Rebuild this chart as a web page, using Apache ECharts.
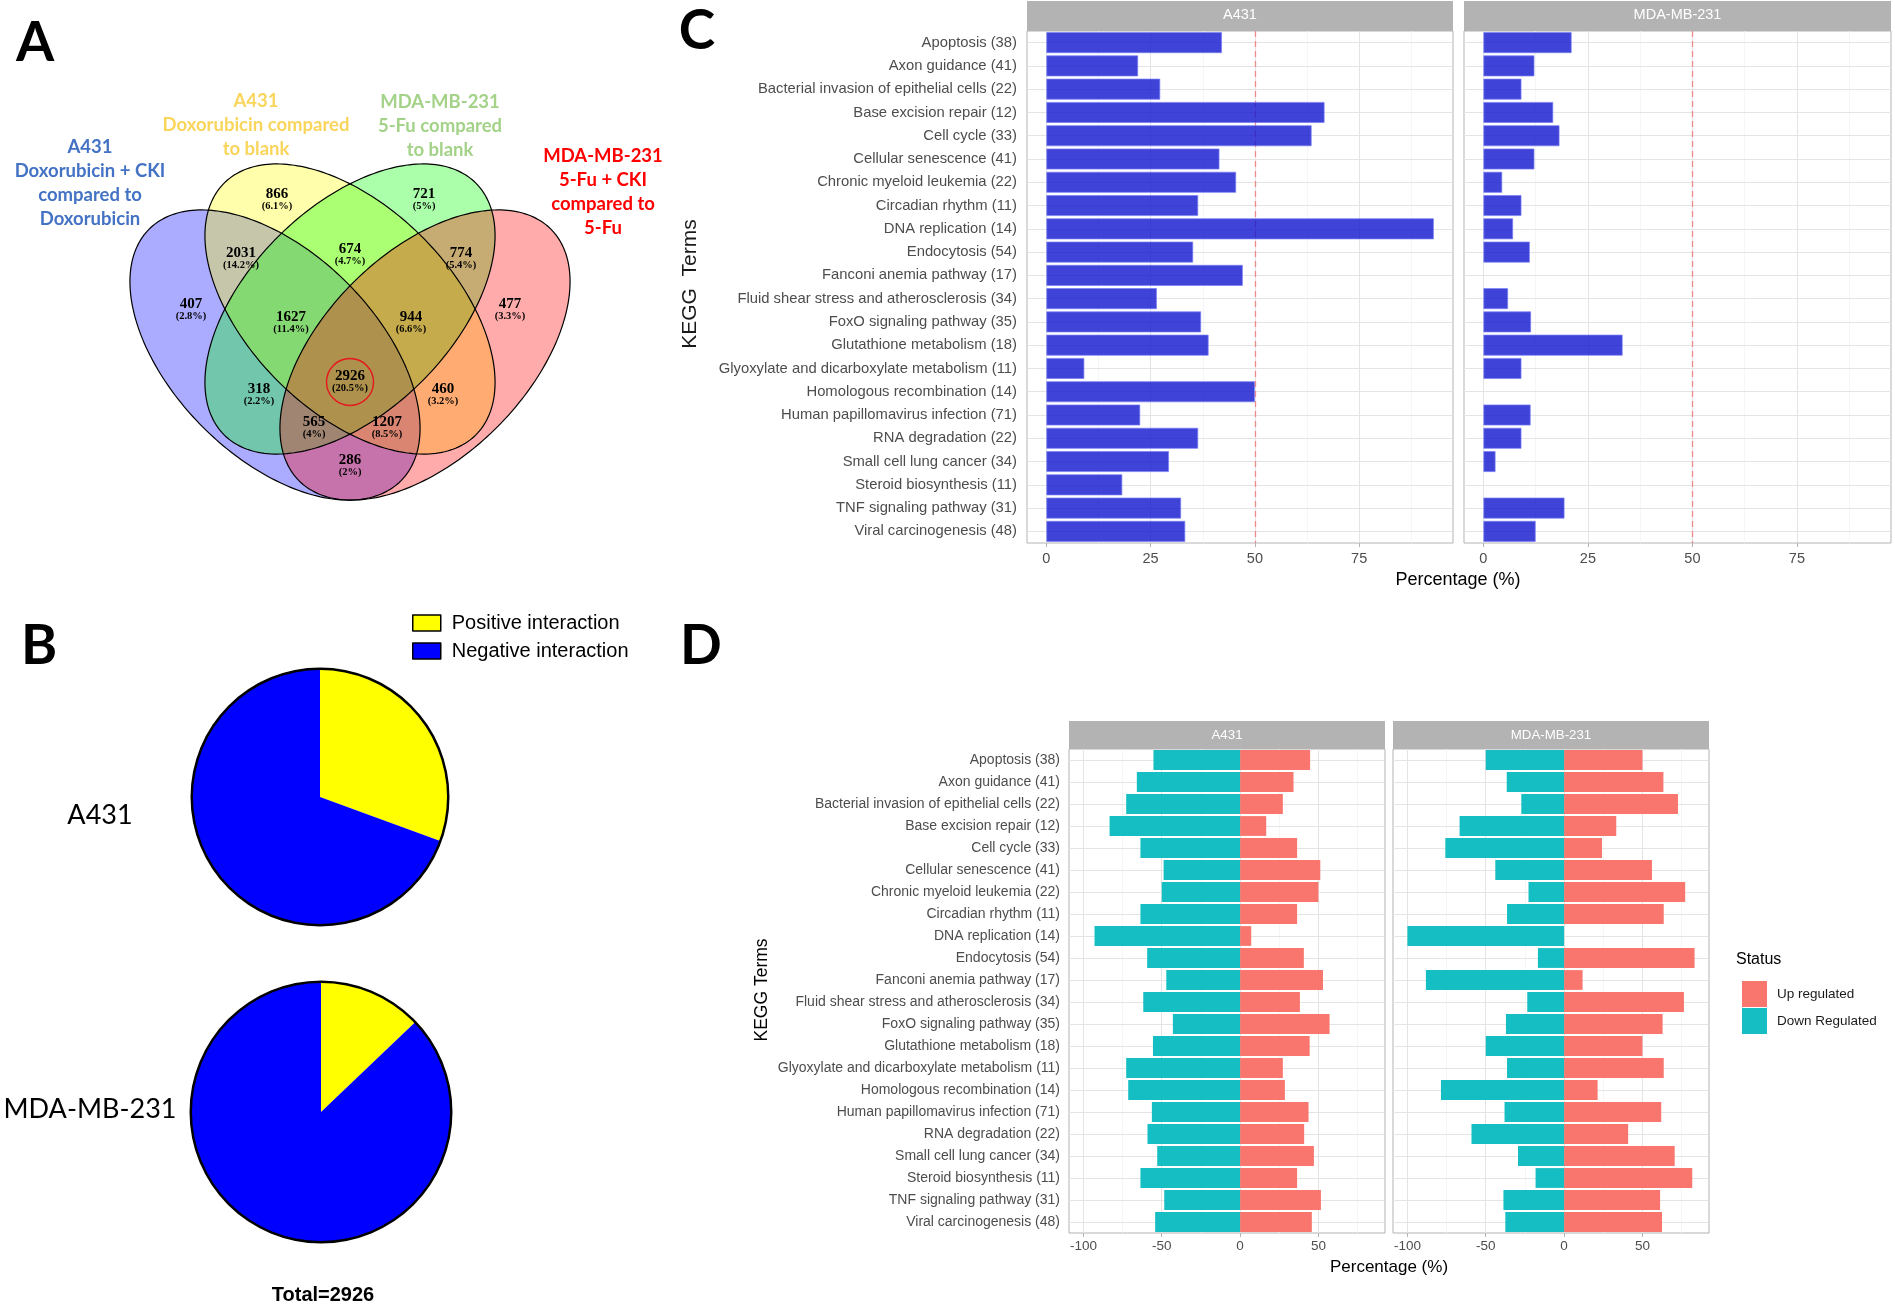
<!DOCTYPE html>
<html><head><meta charset="utf-8">
<script src="https://cdn.jsdelivr.net/npm/echarts@6/dist/echarts.min.js"></script>
<style>html,body{margin:0;padding:0;background:#fff}#c{width:1895px;height:1306px}</style>
</head><body><div id="c"></div>
<script>
// ---------------- DATA ----------------
const categories = ['Apoptosis (38)','Axon guidance (41)','Bacterial invasion of epithelial cells (22)','Base excision repair (12)','Cell cycle (33)','Cellular senescence (41)','Chronic myeloid leukemia (22)','Circadian rhythm (11)','DNA replication (14)','Endocytosis (54)','Fanconi anemia pathway (17)','Fluid shear stress and atherosclerosis (34)','FoxO signaling pathway (35)','Glutathione metabolism (18)','Glyoxylate and dicarboxylate metabolism (11)','Homologous recombination (14)','Human papillomavirus infection (71)','RNA degradation (22)','Small cell lung cancer (34)','Steroid biosynthesis (11)','TNF signaling pathway (31)','Viral carcinogenesis (48)'];
const facets = ['A431','MDA-MB-231'];
// Panel C: percentage per term
const pctA431 = [42.1,22.0,27.3,66.7,63.6,41.5,45.5,36.4,92.9,35.2,47.1,26.5,37.1,38.9,9.1,50.0,22.5,36.4,29.4,18.2,32.3,33.3];
const pctMDA  = [21.1,12.2,9.1,16.7,18.2,12.2,4.5,9.1,7.1,11.1,null,5.9,11.4,33.3,9.1,null,11.3,9.1,2.9,null,19.4,12.5];
const cTicks = [0,25,50,75];
const cThreshold = 50;
// Panel D: up / down regulated percentages
const upA431   = [44.7,34.1,27.3,16.7,36.4,51.2,50.0,36.4,7.1,40.7,52.9,38.2,57.1,44.4,27.3,28.6,43.7,40.9,47.1,36.4,51.6,45.8];
const downA431 = [-55.3,-65.9,-72.7,-83.3,-63.6,-48.8,-50.0,-63.6,-92.9,-59.3,-47.1,-61.8,-42.9,-55.6,-72.7,-71.4,-56.3,-59.1,-52.9,-63.6,-48.4,-54.2];
const upMDA    = [50.0,63.4,72.7,33.3,24.2,56.1,77.3,63.6,null,83.3,11.8,76.5,62.9,50.0,63.6,21.4,62.0,40.9,70.6,81.8,61.3,62.5];
const downMDA  = [-50.0,-36.6,-27.3,-66.7,-75.8,-43.9,-22.7,-36.4,-100,-16.7,-88.2,-23.5,-37.1,-50.0,-36.4,-78.6,-38.0,-59.1,-29.4,-18.2,-38.7,-37.5];
const dTicks = [-100,-50,0,50];
const statusNames = ['Up regulated','Down Regulated'];
// Panel B: pies
const pieNames = ['Positive interaction','Negative interaction'];
const pieA431 = [895, 2031];
const pieMDA  = [377, 2549];
const pieTotal = 2926;
// Panel A: Venn
const vennSets = ['A431\nDoxorubicin + CKI\ncompared to\nDoxorubicin','A431\nDoxorubicin compared\nto blank','MDA-MB-231\n5-Fu compared\nto blank','MDA-MB-231\n5-Fu + CKI\ncompared to\n5-Fu'];
const vennCounts = [866,721,2031,674,774,407,1627,944,477,318,2926,460,565,1207,286];
const vennPcts = ['(6.1%)','(5%)','(14.2%)','(4.7%)','(5.4%)','(2.8%)','(11.4%)','(6.6%)','(3.3%)','(2.2%)','(20.5%)','(3.2%)','(4%)','(8.5%)','(2%)'];

// ---------------- LAYOUT ----------------
const vennPos = [[277,194],[424,194],[241,253],[350,249],[461,253],[191,304],[291,317],[411,317],[510,304],[259,389],[350,376],[443,389],[314,422],[387,422],[350,460]];
const ellipses = [
  {cx:275,cy:355,ang:Math.PI/4, fill:'rgba(0,0,255,0.33)'},
  {cx:350,cy:309,ang:Math.PI/4, fill:'rgba(255,255,0,0.33)'},
  {cx:350,cy:309,ang:-Math.PI/4,fill:'rgba(0,255,0,0.33)'},
  {cx:425,cy:355,ang:-Math.PI/4,fill:'rgba(255,0,0,0.33)'}
];
const EA = 178, EB = 102;
const vennTitleStyle = [
  {x:90,y:183,color:'#4472C4'},
  {x:256,y:125,color:'#FAD55C'},
  {x:440,y:126,color:'#A3D288'},
  {x:603,y:192,color:'#FF0000'}
];
function ellipsePts(e){
  const pts=[];
  for(let i=0;i<240;i++){
    const t=2*Math.PI*i/240, x=EA*Math.cos(t), y=EB*Math.sin(t);
    pts.push([e.cx + x*Math.cos(e.ang) - y*Math.sin(e.ang), e.cy + x*Math.sin(e.ang) + y*Math.cos(e.ang)]);
  }
  return pts;
}

const grids = [
  {left:1027,top:31,width:426,height:512},
  {left:1464,top:31,width:427,height:512},
  {left:1069,top:749,width:316,height:484},
  {left:1393,top:749,width:316,height:484}
].map(g=>Object.assign(g,{show:true,backgroundColor:'#fff',borderColor:'#B3B3B3',borderWidth:1,containLabel:false}));

const FONT = '"Liberation Sans", Arial, sans-serif';
function xAx(gi,min,max,ticks,fs,margin){
  return {gridIndex:gi,type:'value',min:min,max:max,
    axisLine:{show:false},
    axisTick:{show:true,customValues:ticks,length:4,lineStyle:{color:'#B3B3B3'}},
    axisLabel:{customValues:ticks,fontSize:fs,color:'#4D4D4D',margin:margin,fontFamily:FONT},
    splitLine:{show:false},minorSplitLine:{show:false}};
}
function yAx(gi,show,fs,margin){
  return {gridIndex:gi,type:'category',data:categories,inverse:true,
    axisLine:{show:false},
    axisTick:{show:show,alignWithLabel:true,length:4,lineStyle:{color:'#B3B3B3'}},
    axisLabel:{show:show,interval:0,fontSize:fs,color:'#4D4D4D',margin:margin,fontFamily:FONT},
    splitLine:{show:false}};
}
function gridLines(majors,minors){
  return {silent:true,symbol:['none','none'],z:1,label:{show:false},animation:false,
    emphasis:{disabled:true},
    data:[].concat(
      minors.map(v=>({xAxis:v,lineStyle:{color:'#F2F2F2',width:0.8,type:'solid'}})),
      majors.map(v=>({xAxis:v,lineStyle:{color:'#E4E4E4',width:1,type:'solid'}})),
      categories.map(c=>({yAxis:c,lineStyle:{color:'#E4E4E4',width:1,type:'solid'}}))
    )};
}
const redLine = {silent:true,symbol:['none','none'],z:1.5,label:{show:false},animation:false,
  emphasis:{disabled:true},lineStyle:{color:'#F08A8A',width:1.3,type:[6,4]},data:[{xAxis:cThreshold}]};

const cMin=-4.64, cMax=97.5, dMin=-109.2, dMax=92.5;
const barBlue = {color:'rgba(15,20,205,0.8)',borderColor:'rgba(120,125,245,0.9)',borderWidth:0.8};

const series = [
  {type:'bar',name:facets[0],xAxisIndex:0,yAxisIndex:0,data:pctA431,barWidth:'90%',itemStyle:barBlue,z:2,markLine:gridLines(cTicks,[12.5,37.5,62.5,87.5])},
  {type:'line',name:'thrA',xAxisIndex:0,yAxisIndex:0,data:[],markLine:redLine},
  {type:'bar',name:facets[1],xAxisIndex:1,yAxisIndex:1,data:pctMDA,barWidth:'90%',itemStyle:barBlue,z:2,markLine:gridLines(cTicks,[12.5,37.5,62.5,87.5])},
  {type:'line',name:'thrB',xAxisIndex:1,yAxisIndex:1,data:[],markLine:redLine},
  {type:'bar',name:statusNames[0],stack:'dA',xAxisIndex:2,yAxisIndex:2,data:upA431,barWidth:'90%',itemStyle:{color:'#F8766D'},z:2,markLine:gridLines(dTicks,[-75,-25,25,75])},
  {type:'bar',name:statusNames[1],stack:'dA',xAxisIndex:2,yAxisIndex:2,data:downA431,barWidth:'90%',itemStyle:{color:'#15BEC3'},z:2},
  {type:'bar',name:statusNames[0],stack:'dB',xAxisIndex:3,yAxisIndex:3,data:upMDA,barWidth:'90%',itemStyle:{color:'#F8766D'},z:2,markLine:gridLines(dTicks,[-75,-25,25,75])},
  {type:'bar',name:statusNames[1],stack:'dB',xAxisIndex:3,yAxisIndex:3,data:downMDA,barWidth:'90%',itemStyle:{color:'#15BEC3'},z:2},
  // pies
  {type:'pie',center:[320,797],radius:[0,128],startAngle:90,clockwise:true,silent:true,label:{show:false},labelLine:{show:false},
    data:[{name:pieNames[0],value:pieA431[0],itemStyle:{color:'#FFFF00'}},{name:pieNames[1],value:pieA431[1],itemStyle:{color:'#0000FF'}}]},
  {type:'pie',center:[320,797],radius:[127,129.5],silent:true,label:{show:false},labelLine:{show:false},legendHoverLink:false,
    data:[{name:'outlineA',value:1,itemStyle:{color:'#000'}}]},
  {type:'pie',center:[321,1112],radius:[0,130],startAngle:90,clockwise:true,silent:true,label:{show:false},labelLine:{show:false},
    data:[{name:pieNames[0],value:pieMDA[0],itemStyle:{color:'#FFFF00'}},{name:pieNames[1],value:pieMDA[1],itemStyle:{color:'#0000FF'}}]},
  {type:'pie',center:[321,1112],radius:[129,131.5],silent:true,label:{show:false},labelLine:{show:false},legendHoverLink:false,
    data:[{name:'outlineB',value:1,itemStyle:{color:'#000'}}]}
];

// graphic elements
const gfx = [];
ellipses.forEach(e=>gfx.push({type:'polygon',silent:true,shape:{points:ellipsePts(e)},style:{fill:e.fill,stroke:null}}));
ellipses.forEach(e=>gfx.push({type:'polygon',silent:true,shape:{points:ellipsePts(e)},style:{fill:null,stroke:'#000',lineWidth:1.2}}));
vennCounts.forEach((v,i)=>{
  gfx.push({type:'text',silent:true,style:{text:String(v),x:vennPos[i][0],y:vennPos[i][1],align:'center',verticalAlign:'middle',font:'bold 15px "Liberation Serif", serif',fill:'#000'}});
  gfx.push({type:'text',silent:true,style:{text:vennPcts[i],x:vennPos[i][0],y:vennPos[i][1]+12.5,align:'center',verticalAlign:'middle',font:'bold 10.5px "Liberation Serif", serif',fill:'#000'}});
});
gfx.push({type:'circle',silent:true,shape:{cx:350,cy:382,r:23.5},style:{fill:null,stroke:'#E8141E',lineWidth:1.4}});
vennSets.forEach((t,i)=>gfx.push({type:'text',silent:true,style:{text:t,x:vennTitleStyle[i].x,y:vennTitleStyle[i].y,align:'center',verticalAlign:'middle',font:'bold 18.5px Lato, "Open Sans", sans-serif',lineHeight:24.3,fill:vennTitleStyle[i].color}}));
// panel letters
[['A',35,43],['B',39,646],['C',697,31],['D',701,646]].forEach(p=>gfx.push({type:'text',silent:true,style:{text:p[0],x:p[1],y:p[2],align:'center',verticalAlign:'middle',font:'bold 55px Lato, "Open Sans", sans-serif',fill:'#000'}}));
// pie labels
gfx.push({type:'text',silent:true,style:{text:facets[0],x:100,y:815,align:'center',verticalAlign:'middle',font:'27px Lato, "Open Sans", sans-serif',fill:'#000'}});
gfx.push({type:'text',silent:true,style:{text:facets[1],x:90,y:1109,align:'center',verticalAlign:'middle',font:'27px Lato, "Open Sans", sans-serif',fill:'#000'}});
gfx.push({type:'text',silent:true,style:{text:'Total='+pieTotal,x:323,y:1295,align:'center',verticalAlign:'middle',font:'bold 20px "Liberation Sans", Arial, sans-serif',fill:'#000'}});
// strips
const strips = [[1027,1,426,30,15,14.5,0],[1464,1,427,30,15,14.5,1],[1069,721,316,28,735,13.3,0],[1393,721,316,28,735,13.3,1]];
strips.forEach(s=>{
  gfx.push({type:'rect',silent:true,shape:{x:s[0],y:s[1],width:s[2],height:s[3]},style:{fill:'#B3B3B3'}});
  gfx.push({type:'text',silent:true,style:{text:facets[s[6]],x:s[0]+s[2]/2,y:s[4],align:'center',verticalAlign:'middle',font:s[5]+'px '+FONT,fill:'#fff'}});
});
// axis titles
gfx.push({type:'text',silent:true,style:{text:'Percentage (%)',x:1458,y:580,align:'center',verticalAlign:'middle',font:'18px '+FONT,fill:'#000'}});
gfx.push({type:'text',silent:true,style:{text:'Percentage (%)',x:1389,y:1267,align:'center',verticalAlign:'middle',font:'17px '+FONT,fill:'#000'}});
gfx.push({type:'text',silent:true,x:690,y:284,rotation:Math.PI/2,style:{text:'KEGG  Terms',x:0,y:0,align:'center',verticalAlign:'middle',font:'21px '+FONT,fill:'#1A1A1A'}});
gfx.push({type:'text',silent:true,x:762,y:990,rotation:Math.PI/2,style:{text:'KEGG Terms',x:0,y:0,align:'center',verticalAlign:'middle',font:'17.5px '+FONT,fill:'#000'}});
gfx.push({type:'text',silent:true,style:{text:'Status',x:1736,y:960,align:'left',verticalAlign:'middle',font:'16px '+FONT,fill:'#000'}});

const option = {
  backgroundColor:'#fff',
  animation:false,
  textStyle:{fontFamily:FONT},
  grid:grids,
  xAxis:[xAx(0,cMin,cMax,cTicks,14.5,8),xAx(1,cMin,cMax,cTicks,14.5,8),xAx(2,dMin,dMax,dTicks,13.5,6),xAx(3,dMin,dMax,dTicks,13.5,6)],
  yAxis:[yAx(0,true,14.8,10),yAx(1,false,14.8,10),yAx(2,true,14,9),yAx(3,false,14,9)],
  legend:[
    {data:pieNames,orient:'vertical',left:407,top:608,itemWidth:28,itemHeight:16,itemGap:8,icon:'rect',selectedMode:false,
      itemStyle:{borderColor:'#000',borderWidth:1.5},textStyle:{fontSize:20,color:'#000',fontFamily:FONT,padding:[0,0,0,6]}},
    {data:statusNames,orient:'vertical',left:1737,top:976,itemWidth:25,itemHeight:26,itemGap:1,icon:'rect',selectedMode:false,
      textStyle:{fontSize:13.5,color:'#1A1A1A',fontFamily:FONT,padding:[0,0,0,5]}}
  ],
  graphic:{elements:gfx},
  series:series
};
const chart = echarts.init(document.getElementById('c'),null,{renderer:'canvas'});
chart.setOption(option);
</script>
</body></html>
